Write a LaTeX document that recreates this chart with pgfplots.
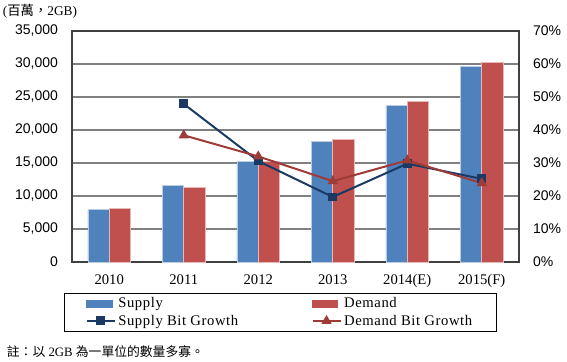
\documentclass[border=0pt]{standalone}
\usepackage{fontspec}
\usepackage{pgfplots}
\pgfplotsset{compat=1.18}
\setmainfont{Liberation Serif}
\newfontfamily\ysans{Liberation Sans}
\newfontfamily\cjk{Noto Sans CJK TC}
\newfontfamily\legfont[LetterSpace=4]{Liberation Serif}
\definecolor{supc}{HTML}{4F81BD}
\definecolor{demc}{HTML}{C0504D}
\definecolor{supl}{HTML}{1B3A63}
\definecolor{deml}{HTML}{9E3B37}
\definecolor{gridc}{HTML}{808080}
\definecolor{axc}{HTML}{404040}
\begin{document}
\begin{tikzpicture}
\useasboundingbox (0,0) rectangle (425.25pt,270.75pt);
\begin{axis}[
  at={(54pt,74.25pt)}, anchor=south west, scale only axis,
  width=335.25pt, height=173.25pt,
  xmin=-0.5, xmax=5.5, ymin=0, ymax=35000,
  xtick={0,1,2,3,4,5},
  xticklabels={2010,2011,2012,2013,2014(E),2015(F)},
  ytick={0,5000,...,35000},
  ymajorgrids, major grid style={draw=gridc, line width=1pt},
  major tick length=0pt,
  axis line style={draw=axc, line width=1.2pt},
  ybar=0pt, bar width=16pt,
  scaled y ticks=false,
  /pgf/number format/assume math mode=true,
  yticklabel style={font=\ysans\fontsize{10.5}{12}\selectfont, xshift=-7pt, /pgf/number format/fixed, /pgf/number format/1000 sep={,}},
  xticklabel style={font=\fontsize{11}{12}\selectfont, yshift=-6pt},
]
\addplot[fill=supc, draw=supc!40!white, line width=0.5pt] coordinates {(0,7940)(1,11620)(2,15260)(3,18240)(4,23740)(5,29600)};
\addplot[fill=demc, draw=demc!40!white, line width=0.5pt] coordinates {(0,8180)(1,11320)(2,15300)(3,18590)(4,24350)(5,30250)};
\end{axis}
\begin{axis}[
  at={(54pt,74.25pt)}, anchor=south west, scale only axis,
  width=335.25pt, height=173.25pt,
  xmin=-0.5, xmax=5.5, ymin=0, ymax=70,
  axis y line*=right, axis x line=none,
  ytick={0,10,...,70},
  yticklabel={\pgfmathprintnumber{\tick}\%},
  major tick length=0pt,
  axis line style={draw=axc, line width=1.2pt},
  /pgf/number format/assume math mode=true,
  yticklabel style={font=\ysans\fontsize{10.5}{12}\selectfont, xshift=7pt},
  legend columns=2,
  legend cell align=left,
  legend style={at={(axis description cs:-0.018,-0.134)}, anchor=north west,
    draw=black, line width=0.6pt, inner xsep=16pt, inner ysep=1pt,
    font=\legfont\fontsize{11}{12}\selectfont,
    /tikz/every even column/.append style={column sep=53pt}},
  legend image code/.code={\draw[mark repeat=2,mark phase=2,#1] plot coordinates {(0pt,0pt) (10.5pt,0pt) (21pt,0pt)};},
]
\addlegendimage{legend image code/.code={\fill[supc] (0pt,-2.6pt) rectangle (19pt,2.6pt);}}
\addlegendentry{Supply}
\addlegendimage{legend image code/.code={\fill[demc] (0pt,-2.6pt) rectangle (19pt,2.6pt);}}
\addlegendentry{Demand}
\addplot[supl, line width=1.5pt, mark=square*, mark size=2.6pt, mark options={solid}] coordinates {(1,47.9)(2,30.6)(3,19.7)(4,29.8)(5,25.2)};
\addlegendentry{Supply Bit Growth}
\addplot[deml, line width=1.5pt, mark=triangle*, mark size=3pt, mark options={solid}] coordinates {(1,38.4)(2,32.0)(3,24.5)(4,30.8)(5,23.9)};
\addlegendentry{Demand Bit Growth}
\end{axis}
\node[anchor=west, inner sep=0pt] at (2pt,262.5pt) {\fontsize{10}{11}\selectfont(\cjk 百萬，\normalfont2GB)};
\node[anchor=west, inner sep=0pt] at (5pt,6.75pt) {\fontsize{9.6}{12}\selectfont{\cjk 註：以} 2GB {\cjk 為一單位的數量多寡。}};
\end{tikzpicture}
\end{document}
